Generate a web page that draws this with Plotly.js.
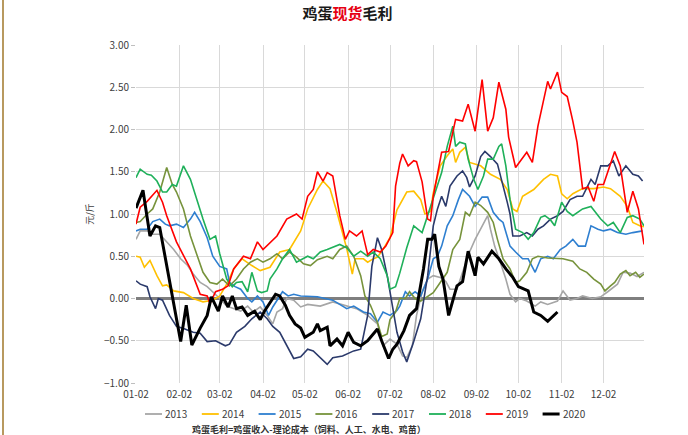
<!DOCTYPE html>
<html>
<head>
<meta charset="utf-8">
<script src="https://cdn.plot.ly/plotly-3.0.1.min.js"></script>
<style>html,body{margin:0;padding:0;background:#fff;}#chart{width:688px;height:435px;}</style>
</head>
<body>
<div id="chart"></div>
<script>
// x values: days after Jan 2; y values: 元/斤
const tickLabels = ['01-02','02-02','03-02','04-02','05-02','06-02','07-02','08-02','09-02','10-02','11-02','12-02'];
const years = ['2013','2014','2015','2016','2017','2018','2019','2020'];
const colors = ['#a6a6a6','#ffc000','#2e7fd0','#77933c','#2b3a6b','#1fb05a','#ff0000','#000000'];

const d2013 = [0,3,8,12,17,22,27,32,37,41,46,51,55,60,65,70,75,80,84,89,94,98,101,105,108,113,118,123,132,141,151,158,166,173,177,182,187,191,194,198,201,205,209,213,218,222,225,230,234,239,243,248,252,254,257,261,265,268,272,275,280,286,290,295,302,306,311,316,320,327,333,338,345,349,354,359,364];
const v2013 = [0.70,0.80,0.80,0.76,0.76,0.67,0.58,0.47,0.39,0.29,0.19,0.14,0.08,0.00,-0.09,-0.12,-0.15,-0.09,-0.16,-0.10,-0.20,-0.30,-0.16,-0.12,0.00,-0.02,-0.10,-0.07,-0.09,-0.04,-0.09,-0.12,-0.20,-0.30,-0.56,-0.48,-0.54,-0.68,-0.70,-0.56,-0.20,0.08,0.23,0.27,0.25,0.20,0.11,0.11,0.31,0.55,0.70,0.86,0.98,0.82,0.62,0.43,0.23,0.05,-0.04,0.00,-0.03,-0.09,-0.04,-0.07,-0.03,0.09,-0.02,0.00,0.03,0.00,0.02,0.08,0.17,0.31,0.30,0.26,0.31];

const d2014 = [0,3,6,10,15,19,22,27,34,41,48,55,60,65,70,76,83,89,96,103,110,118,123,130,134,139,144,148,151,155,157,163,166,169,173,177,182,187,194,199,204,207,211,213,218,223,227,229,232,236,239,247,254,261,266,270,273,277,285,292,297,302,305,309,313,320,328,335,340,347,352,356,361,364];
const v2014 = [0.50,0.49,0.37,0.45,0.27,0.15,0.16,0.09,0.07,0.00,-0.04,-0.02,0.03,0.17,0.35,0.47,0.39,0.33,0.37,0.55,0.58,0.80,1.06,1.29,1.39,1.30,1.02,0.79,0.59,0.29,0.47,0.47,0.43,0.46,0.49,0.58,0.72,1.05,1.26,1.27,1.17,1.00,1.03,1.25,1.57,1.69,1.77,1.61,1.73,1.79,1.61,1.57,1.47,1.41,1.29,1.06,1.03,1.21,1.29,1.41,1.47,1.45,1.24,1.18,1.24,1.30,1.30,1.32,1.30,1.21,1.09,0.90,0.86,0.85];

const d2015 = [0,3,8,12,17,21,24,29,34,39,42,46,51,55,60,65,67,71,75,80,83,87,91,95,98,102,105,109,113,118,130,141,151,156,163,168,173,177,182,187,189,193,196,200,204,209,213,216,219,223,227,231,234,239,243,248,252,256,260,263,268,272,277,281,286,290,295,299,304,308,313,317,322,326,331,335,340,345,351,356,363];
const v2015 = [0.80,0.82,0.82,0.91,0.94,0.88,0.86,0.88,0.84,0.94,1.02,0.91,0.72,0.50,0.38,0.35,0.19,0.14,0.11,0.00,-0.04,0.03,-0.04,-0.20,-0.10,0.00,0.08,0.03,0.05,0.03,0.02,-0.02,-0.12,-0.09,-0.16,-0.18,-0.28,-0.16,-0.20,-0.14,-0.09,0.08,0.03,0.08,0.03,0.23,0.47,0.50,0.62,0.86,0.98,1.17,1.29,1.21,1.09,1.20,1.20,1.02,0.94,0.90,0.62,0.55,0.47,0.47,0.31,0.47,0.50,0.47,0.58,0.62,0.70,0.62,0.62,0.86,0.82,0.80,0.82,0.78,0.76,0.78,0.80];

const d2016 = [0,3,8,12,17,22,26,29,34,39,44,48,53,58,62,67,72,77,82,87,91,96,101,105,110,115,120,125,130,137,141,146,151,156,161,164,168,173,176,180,182,186,189,193,196,200,204,209,213,218,223,227,232,236,239,243,247,252,256,259,263,268,272,275,280,284,288,295,302,306,313,318,323,328,333,336,340,343,347,351,354,358,361,364];
const v2016 = [0.90,0.91,1.00,1.06,1.26,1.55,1.35,1.26,1.06,0.74,0.50,0.31,0.19,0.17,0.23,0.15,0.23,0.35,0.43,0.47,0.43,0.47,0.53,0.47,0.55,0.49,0.41,0.39,0.46,0.50,0.47,0.58,0.62,0.50,0.27,0.03,-0.08,-0.28,-0.45,-0.42,-0.25,-0.16,0.00,0.00,0.08,0.00,-0.03,0.03,0.07,0.19,0.31,0.58,0.70,1.02,0.98,1.14,1.10,1.02,0.90,0.70,0.47,0.35,0.19,0.21,0.31,0.47,0.50,0.48,0.47,0.47,0.44,0.35,0.31,0.23,0.17,0.09,0.15,0.19,0.29,0.33,0.27,0.31,0.25,0.29];

const d2017 = [0,3,8,10,14,16,19,24,29,35,41,46,51,57,64,67,72,78,83,89,94,98,103,108,113,118,123,127,132,137,141,148,156,161,166,169,173,176,180,184,187,191,194,199,204,209,213,216,219,222,225,230,234,237,239,243,247,250,254,259,262,266,268,270,275,280,284,288,292,297,302,306,311,316,320,326,329,333,338,342,346,351,356,360,363];
const v2017 = [0.21,0.17,0.14,0.02,-0.12,0.00,-0.02,-0.20,-0.33,-0.36,-0.40,-0.41,-0.51,-0.50,-0.56,-0.54,-0.40,-0.33,-0.24,-0.16,-0.24,-0.33,-0.40,-0.56,-0.71,-0.69,-0.60,-0.62,-0.70,-0.78,-0.70,-0.68,-0.62,-0.60,-0.20,0.38,0.72,0.58,0.27,-0.12,-0.40,-0.63,-0.75,-0.51,-0.24,0.27,0.86,1.06,1.21,1.09,1.33,1.45,1.51,1.43,1.32,1.45,1.68,1.74,1.68,1.59,1.41,1.14,1.00,0.74,0.74,0.78,0.74,0.82,0.86,0.94,0.98,1.03,1.17,1.21,1.21,1.41,1.35,1.57,1.57,1.63,1.45,1.57,1.47,1.45,1.39];

const d2018 = [0,3,8,11,15,19,22,26,29,34,39,44,48,53,57,60,65,69,72,76,80,83,87,90,94,96,101,105,110,115,120,123,127,132,137,141,146,151,156,161,166,170,175,180,182,186,189,194,199,205,209,213,219,223,227,229,232,236,238,242,245,249,252,256,260,262,265,268,272,277,281,285,290,293,297,300,305,309,313,320,326,333,338,342,347,352,356,361,364];
const v2018 = [1.43,1.53,1.47,1.46,1.39,1.26,1.26,1.35,1.33,1.57,1.41,1.14,0.94,0.70,0.74,0.53,0.23,0.14,0.19,0.20,0.08,0.31,0.09,0.07,0.09,0.23,0.35,0.47,0.58,0.43,0.47,0.50,0.47,0.55,0.58,0.61,0.64,0.60,0.50,0.56,0.50,0.55,0.47,0.27,0.11,0.14,0.30,0.60,0.86,0.78,0.98,1.17,1.49,1.80,2.04,1.80,1.85,1.83,1.65,1.41,1.29,1.45,1.65,1.65,1.80,1.83,1.57,1.17,0.82,0.78,0.70,0.78,0.96,0.98,0.93,0.86,1.14,1.03,0.98,1.06,1.09,0.94,0.86,0.90,0.78,0.96,0.98,0.94,0.86];

const d2019 = [0,3,8,15,19,22,29,39,46,51,53,57,62,66,70,77,82,87,91,101,108,115,119,123,127,130,134,137,141,146,150,153,158,162,166,170,175,179,184,186,189,191,195,199,201,205,209,211,213,219,224,229,234,238,243,248,252,256,260,265,267,272,280,284,288,295,297,302,305,309,313,316,320,324,328,331,335,340,343,347,352,356,360,364];
const v2019 = [0.88,1.08,1.15,1.28,1.14,0.98,0.67,0.35,0.05,0.03,-0.06,0.08,0.11,0.15,0.35,0.50,0.47,0.67,0.58,0.74,0.94,1.00,0.94,1.21,1.29,1.50,1.39,1.49,1.45,0.98,0.70,0.80,0.74,0.80,0.52,0.58,0.55,0.62,0.78,1.33,1.60,1.71,1.57,1.63,1.62,1.38,0.94,0.92,1.21,1.73,1.74,2.12,2.10,2.30,1.98,2.59,1.98,2.14,2.56,2.24,1.91,1.55,1.73,1.61,2.04,2.57,2.48,2.68,2.44,2.39,2.10,1.85,1.30,1.32,1.15,1.35,1.35,1.61,1.74,1.57,1.02,1.27,1.06,0.64];

const d2020 = [0,5,10,14,17,32,36,40,46,51,54,59,62,66,69,72,76,80,85,89,92,96,100,103,107,110,114,118,121,127,130,132,137,139,144,148,152,156,161,166,173,176,181,184,187,192,196,201,206,209,212,214,217,220,224,230,234,238,243,245,249,255,260,265,270,274,281,285,290,295,302];
const v2020 = [1.07,1.28,0.74,0.86,0.84,-0.51,-0.08,-0.55,-0.35,-0.20,0.02,-0.15,0.03,-0.10,0.03,-0.12,-0.10,-0.20,-0.15,-0.25,-0.15,-0.05,0.05,0.03,-0.08,-0.20,-0.30,-0.35,-0.46,-0.40,-0.30,-0.38,-0.34,-0.56,-0.48,-0.56,-0.40,-0.52,-0.56,-0.50,-0.36,-0.50,-0.71,-0.60,-0.54,-0.38,-0.20,-0.12,0.35,0.70,0.70,0.76,0.38,0.23,-0.20,0.15,0.20,0.56,0.27,0.49,0.41,0.56,0.47,0.35,0.25,0.14,0.09,-0.16,-0.20,-0.27,-0.16];

const dayArrays = [d2013,d2014,d2015,d2016,d2017,d2018,d2019,d2020];
const valArrays = [v2013,v2014,v2015,v2016,v2017,v2018,v2019,v2020];

function toDate(d){
  const t = new Date(Date.UTC(2020,0,2+d));
  return t.toISOString().slice(0,10);
}

const traces = years.map((y,i)=>({
  type:'scatter', mode:'lines', name:y,
  x: dayArrays[i].map(toDate), y: valArrays[i],
  line:{color:colors[i], width: y==='2020'?3:1.6},
  hoverinfo:'skip', showlegend:false
}));

const font = '"Noto Sans CJK SC", "Noto Sans", sans-serif';

// plot area geometry (pixels) used to place the custom legend in paper coordinates
const M = {l:136, r:44, t:45, b:52};
const PW = 688 - M.l - M.r, PH = 435 - M.t - M.b;
const px = x => (x - M.l) / PW;
const py = y => (435 - M.b - y) / PH;

const shapes = [{type:'line', xref:'paper', yref:'paper', x0:px(3), x1:px(3), y0:-0.2, y1:1.2, line:{color:'#b8995f', width:2}}];
const annotations = [{text:'鸡蛋毛利=鸡蛋收入-理论成本（饲料、人工、水电、鸡苗）', xref:'paper', yref:'paper', x:px(190), y:py(429), xanchor:'left', yanchor:'middle', showarrow:false, font:{family:font, size:9, color:'#333333', weight:'bold'}}];
years.forEach((y,i)=>{
  const x0 = 145 + i*56.8;
  shapes.push({type:'line', xref:'paper', yref:'paper', x0:px(x0), x1:px(x0+17), y0:py(414), y1:py(414),
               line:{color:colors[i], width: y==='2020'?3:1.8}});
  annotations.push({text:y, xref:'paper', yref:'paper', x:px(x0+18), y:py(414), xanchor:'left', yanchor:'middle',
               showarrow:false, font:{family:font, size:10, color:'#404040'}});
});

const layout = {
  width:688, height:435,
  margin:{l:M.l, r:M.r, t:M.t, b:M.b, autoexpand:false},
  paper_bgcolor:'#ffffff', plot_bgcolor:'#ffffff',
  font:{family:font, size:10, color:'#404040'},
  title:{text:'鸡蛋<span style="color:#e60012">现货</span>毛利', x:0.505, xref:'container', xanchor:'center', y:0.968, yref:'container', yanchor:'middle', font:{family:font, size:15, color:'#1a1a1a', weight:'bold'}},
  xaxis:{type:'date', range:[toDate(0), toDate(364)], tickvals: tickLabels.map(t=>'2020-'+t), ticktext: tickLabels,
         tickangle:0, automargin:false, ticklabelstandoff:4,
         showgrid:true, gridcolor:'#d9d9d9', gridwidth:1, zeroline:false, showline:false,
         ticks:'', tickfont:{size:10, color:'#404040'}},
  yaxis:{range:[-1,3], dtick:0.5, tick0:0, tickformat:'.2f', showgrid:true, gridcolor:'#d9d9d9', gridwidth:1,
         zeroline:true, zerolinecolor:'#7f7f7f', zerolinewidth:3, showline:false, automargin:false,
         ticks:'outside', ticklen:4, tickcolor:'#bfbfbf', tickfont:{size:10, color:'#404040'},
         title:{text:'元/斤', standoff:8, font:{size:9, color:'#404040'}}},
  showlegend:false,
  shapes: shapes,
  annotations: annotations
};

Plotly.newPlot('chart', traces, layout, {staticPlot:true, displayModeBar:false});
</script>
</body>
</html>
